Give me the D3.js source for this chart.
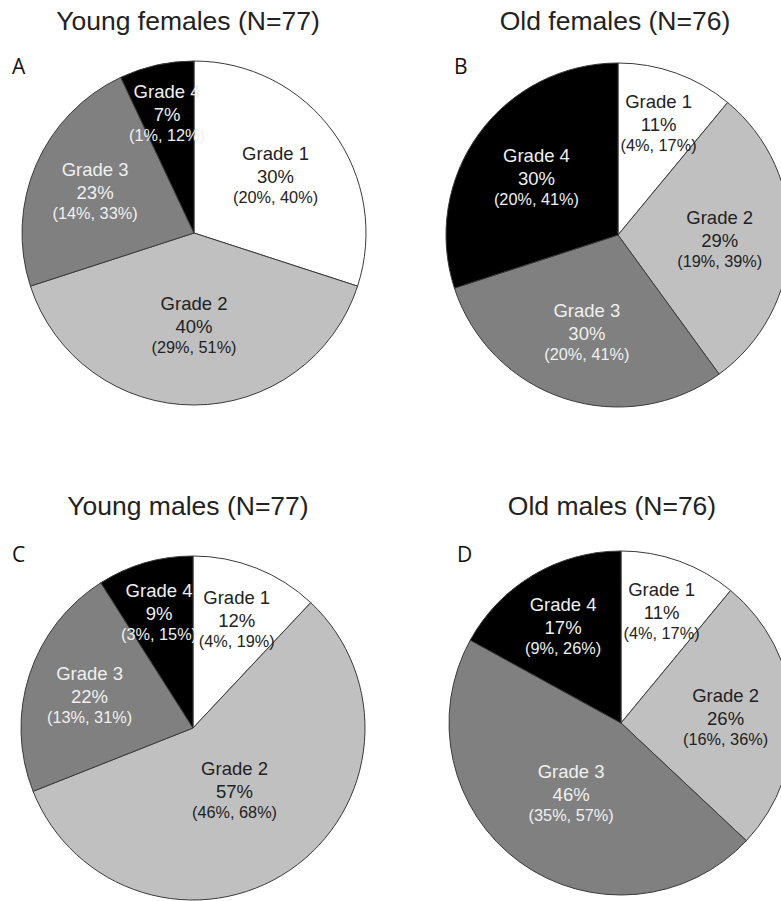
<!DOCTYPE html>
<html>
<head>
<meta charset="utf-8">
<script src="https://cdn.jsdelivr.net/npm/d3@7"></script>
<style>
  body { margin: 0; background: #fff; }
  .title { font-family: "Liberation Sans", Arial, sans-serif; font-size: 26.5px; fill: #222; }
  .letter { font-family: "Open Sans", sans-serif; font-size: 21px; fill: #111; }
  .lab { font-family: "Liberation Sans", Arial, sans-serif; font-size: 18.5px; }
  .lab .ci { font-size: 16.3px; }
</style>
</head>
<body>
<div id="chart"></div>
<script>
// grades go clockwise from 12 o'clock
const grades = ["Grade 1", "Grade 2", "Grade 3", "Grade 4"];
const gradeColors = ["#ffffff", "#c0c0c0", "#808080", "#000000"];
const labelColors = ["#222222", "#222222", "#f0f0f0", "#f0f0f0"];

const panelTitles = ["Young females (N=77)", "Old females (N=76)", "Young males (N=77)", "Old males (N=76)"];
const panelLetters = ["A", "B", "C", "D"];

const youngFemales = [30, 40, 23, 7];
const youngFemalesCI = [[20, 40], [29, 51], [14, 33], [1, 12]];
const oldFemales = [11, 29, 30, 30];
const oldFemalesCI = [[4, 17], [19, 39], [20, 41], [20, 41]];
const youngMales = [12, 57, 22, 9];
const youngMalesCI = [[4, 19], [46, 68], [13, 31], [3, 15]];
const oldMales = [11, 26, 46, 17];
const oldMalesCI = [[4, 17], [16, 36], [35, 57], [9, 26]];

const w = 781, h = 901;
const r = 172;

// where each panel sits on the page
const panels = [
  {values: youngFemales, ci: youngFemalesCI, cx: 194, cy: 233, tx: 188, ty: 30, lx: 12, ly: 74},
  {values: oldFemales, ci: oldFemalesCI, cx: 618, cy: 235, tx: 615, ty: 30, lx: 454, ly: 74},
  {values: youngMales, ci: youngMalesCI, cx: 193, cy: 728, tx: 188, ty: 515, lx: 12, ly: 562},
  {values: oldMales, ci: oldMalesCI, cx: 621, cy: 723, tx: 612, ty: 515, lx: 457, ly: 562}
];

const svg = d3.select('#chart')
    .append('svg')
    .attr('width', w)
    .attr('height', h);

const pie = d3.pie().sort(null).value(d => d.value);
const arc = d3.arc().innerRadius(0).outerRadius(r);

panels.forEach(function(p, k) {
  svg.append('text')
      .attr('class', 'title')
      .attr('x', p.tx)
      .attr('y', p.ty)
      .attr('text-anchor', 'middle')
      .text(panelTitles[k]);

  svg.append('text')
      .attr('class', 'letter')
      .attr('x', p.lx)
      .attr('y', p.ly)
      .text(panelLetters[k]);

  let data = p.values.map((v, i) => ({grade: grades[i], value: v, lo: p.ci[i][0], hi: p.ci[i][1], i: i}));
  let g = svg.append('g').attr('transform', 'translate(' + p.cx + ',' + p.cy + ')');

  g.selectAll('path')
      .data(pie(data))
      .enter()
      .append('path')
      .attr('d', arc)
      .attr('fill', d => gradeColors[d.data.i])
      .attr('stroke', '#3a3a3a')
      .attr('stroke-width', 1);

  // smaller slices get their label pushed further out
  let labels = g.selectAll('text.lab')
      .data(pie(data))
      .enter()
      .append('text')
      .attr('class', 'lab')
      .attr('text-anchor', 'middle')
      .attr('fill', d => labelColors[d.data.i])
      .attr('transform', function(d) {
        let lr = r * (0.76 - 0.0058 * d.data.value);
        let c = d3.arc().innerRadius(lr).outerRadius(lr).centroid(d);
        return 'translate(' + c[0] + ',' + c[1] + ')';
      });

  labels.append('tspan').attr('x', 0).attr('y', -14).text(d => d.data.grade);
  labels.append('tspan').attr('x', 0).attr('y', 9).text(d => d.data.value + '%');
  labels.append('tspan').attr('class', 'ci').attr('x', 0).attr('y', 29)
      .text(d => '(' + d.data.lo + '%, ' + d.data.hi + '%)');
});
</script>
</body>
</html>
